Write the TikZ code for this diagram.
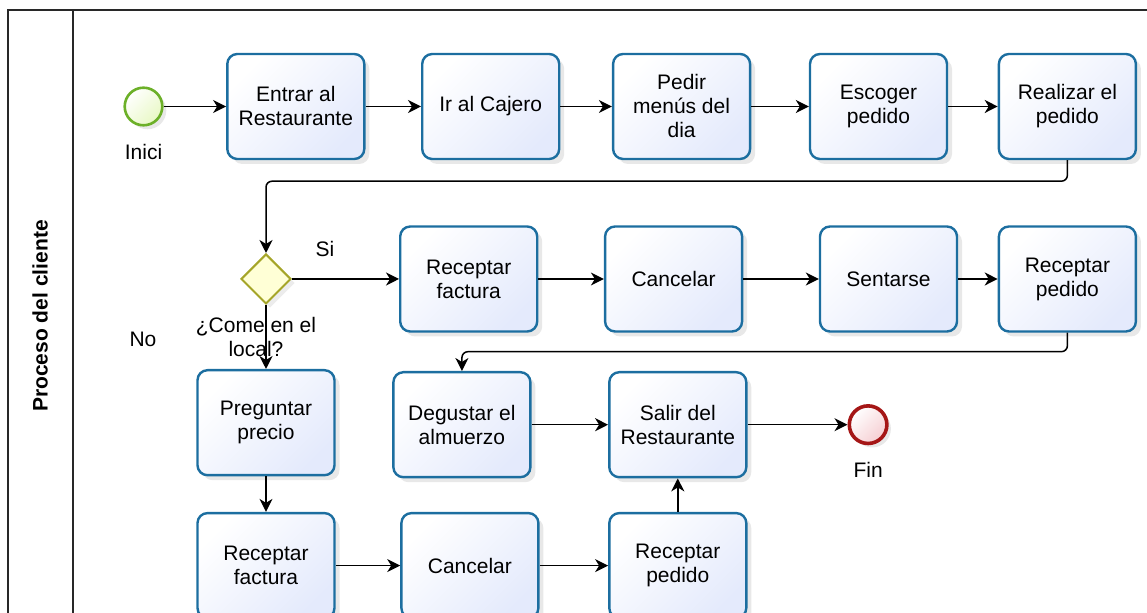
\documentclass[tikz,border=0pt]{standalone}
\usepackage{fontspec}
\setmainfont{Liberation Sans}
\usetikzlibrary{shapes.geometric, arrows.meta}
\usetikzlibrary{positioning}
\usetikzlibrary{shadows}

\definecolor{taskline}{RGB}{28,110,160}
\definecolor{taskfill}{RGB}{228,234,252}
\definecolor{startline}{RGB}{108,176,40}
\definecolor{startfill}{RGB}{232,248,196}
\definecolor{endline}{RGB}{165,22,22}
\definecolor{endfill}{RGB}{246,206,210}
\definecolor{gateline}{RGB}{165,165,40}
\definecolor{gatefill}{RGB}{255,255,214}
\definecolor{poolline}{RGB}{40,40,40}

\begin{document}
\begin{tikzpicture}[
                x=0.5pt, y=-0.5pt,
                font=\fontsize{10.5}{12}\selectfont,
                task/.style={
                        draw=taskline,
                        line width=1.2pt,
                        rounded corners=5pt,
                        top color=white,
                        bottom color=taskfill,
                        shading angle=45,
                        minimum width=68.5pt,
                        minimum height=52.5pt,
                        align=center,
                        drop shadow={opacity=0.18, shadow xshift=2.5pt, shadow yshift=-2.5pt}
                    },
                startevent/.style={
                        draw=startline,
                        circle,
                        line width=1.3pt,
                        top color=white,
                        bottom color=startfill,
                        shading angle=45,
                        minimum size=18.8pt,
                        inner sep=0pt,
                        drop shadow={opacity=0.18, shadow xshift=2pt, shadow yshift=-2pt}
                    },
                endevent/.style={
                        draw=endline,
                        circle,
                        line width=1.8pt,
                        top color=white,
                        bottom color=endfill,
                        shading angle=45,
                        minimum size=18.8pt,
                        inner sep=0pt,
                        drop shadow={opacity=0.18, shadow xshift=2pt, shadow yshift=-2pt}
                    },
                gateway/.style={
                        draw=gateline,
                        diamond,
                        line width=1pt,
                        fill=gatefill,
                        minimum width=25pt,
                        minimum height=25pt,
                        inner sep=0pt,
                        drop shadow={opacity=0.15, shadow xshift=2pt, shadow yshift=-2pt}
                    },
                textnode/.style={
                        draw=none,
                        inner sep=0pt,
                        align=center
                    },
                flow/.style={
                        -{Stealth[length=6.5pt, width=6.5pt, inset=2pt]},
                        line width=0.75pt
                    },
                pool/.style={
                        draw=poolline,
                        line width=0.75pt
                    }
            ]

            \useasboundingbox (0,0) rectangle (1147,613);

            % Pool and lane
            \draw[pool] (1147,10) -- (8,10) -- (8,613);
            \draw[pool] (73,10) -- (73,613);
            \node[textnode, rotate=90, font=\fontsize{10.5}{12}\selectfont\bfseries] (lane) at (40,316) {Proceso del cliente};

            % First row
            \node[startevent] (S) at (143.5,106.5) {};
            \node[task, right=31.25pt of S] (T1) {Entrar al\\Restaurante};
            \node[task, right=27.75pt of T1] (T2) {Ir al Cajero};
            \node[task, right=25.75pt of T2] (T3) {Pedir\\men\'us del\\dia};
            \node[task, right=28.75pt of T3] (T4) {Escoger\\pedido};
            \node[task, right=24.75pt of T4] (T5) {Realizar el\\pedido};

            % Second row
            \node[gateway] (G) at (266,279) {};
            \node[task, right=53.5pt of G] (RF2) {Receptar\\factura};
            \node[task, right=32.75pt of RF2] (C2) {Cancelar};
            \node[task, right=37.75pt of C2] (ST2) {Sentarse};
            \node[task, right=19.75pt of ST2] (RP2) {Receptar\\pedido};

            % Third row
            \node[task, below=32pt of G] (PP3) {Preguntar\\precio};
            \node[task, right=28.25pt of PP3, yshift=-1pt] (DA3) {Degustar el\\almuerzo};
            \node[task, right=38.25pt of DA3] (SR3) {Salir del\\Restaurante};
            \node[endevent, right=50pt of SR3] (F) {};

            % Fourth row
            \node[task, below=17.75pt of PP3] (RF4) {Receptar\\factura};
            \node[task, right=32.25pt of RF4] (C4) {Cancelar};
            \node[task, right=34.25pt of C4] (RP4) {Receptar\\pedido};

            % Labels
            \node[textnode, below=8.5pt of S] (Stext) {Inici};
            \node[textnode, below=8.5pt of F] (Ftext) {Fin};
            \node[textnode, below=6pt of G, xshift=-5pt] (Gtext) {¿Come en el\\local?};
            \node[textnode] (yes) at (325,249) {Si};
            \node[textnode] (no) at (143,339) {No};

            % Flows
            \draw[flow] (S) -- (T1);
            \draw[flow] (T1) -- (T2);
            \draw[flow] (T2) -- (T3);
            \draw[flow] (T3) -- (T4);
            \draw[flow] (T4) -- (T5);
            \draw[flow, rounded corners=3pt] (T5.south) -- ++(0,21) -| (G.north);
            \draw[flow] (G) -- (RF2);
            \draw[flow] (RF2) -- (C2);
            \draw[flow] (C2) -- (ST2);
            \draw[flow] (ST2) -- (RP2);
            \draw[flow, rounded corners=3pt] (RP2.south) -- ++(0,19) -| (DA3.north);
            \draw[flow] (G) -- (PP3);
            \draw[flow] (DA3) -- (SR3);
            \draw[flow] (SR3) -- (F);
            \draw[flow] (PP3) -- (RF4);
            \draw[flow] (RF4) -- (C4);
            \draw[flow] (C4) -- (RP4);
            \draw[flow] (RP4) -- (SR3);

        \end{tikzpicture}
\end{document}
